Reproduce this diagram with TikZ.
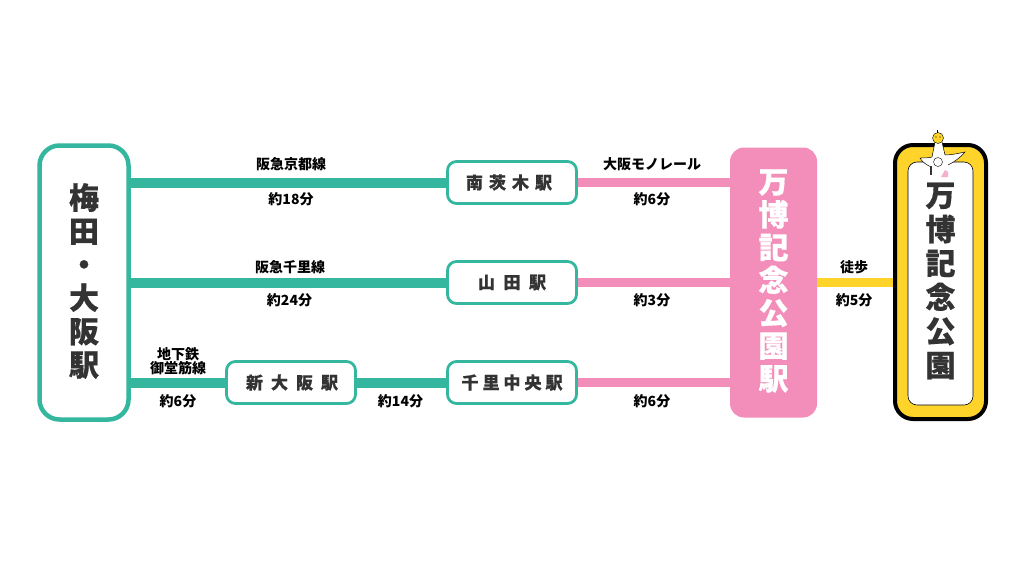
\documentclass[tikz,border=0pt]{standalone}
\usepackage{fontspec}
\usetikzlibrary{backgrounds}
\setmainfont{Noto Sans CJK JP}
\newfontfamily\cjkb[FakeBold=0.5]{Noto Sans CJK JP Black}
\newfontfamily\cjkc{Noto Sans CJK JP Black}
\definecolor{teal}{HTML}{34B79E}
\definecolor{pinkline}{HTML}{F38DB9}
\definecolor{yel}{HTML}{FFD42A}
\definecolor{ink}{HTML}{333333}
\tikzset{
  x=1pt,y=-1pt,
  bigbox/.style={draw=teal,line width=4.5pt,rounded corners=20pt,fill=white,minimum width=89pt,minimum height=274pt,inner sep=0pt},
  stationbox/.style={draw=teal,line width=2.8pt,rounded corners=9pt,fill=white,minimum width=129pt,minimum height=42pt,inner sep=0pt,text=ink,font=\cjkb\fontsize{17}{18}\selectfont},
  hubbox/.style={fill=pinkline,rounded corners=14pt,minimum width=87pt,minimum height=270pt,inner sep=0pt},
  vtext/.style={align=center,inner sep=0pt,font=\cjkb\fontsize{30}{33.4}\selectfont},
  tlabel/.style={inner sep=0pt,align=center,text=black,font=\cjkc\fontsize{14}{13.5}\selectfont},
  tealline/.style={draw=teal,line width=10pt},
  pinkl/.style={draw=pinkline,line width=9.5pt},
  yelline/.style={draw=yel,line width=9.5pt}
}
\begin{document}
\begin{tikzpicture}
\useasboundingbox (0,0) rectangle (1024,566);
% boxes
\node[bigbox] (umeda) at (84,282.5) {};
\node[stationbox] (minami) at (512,182.5) {南\hspace{6pt}茨\hspace{6pt}木\hspace{6pt}駅\hspace*{6pt}};
\node[stationbox] (yamada) at (512,282.5) {山\hspace{8.5pt}田\hspace{8.5pt}駅};
\node[stationbox] (senri) at (512,382.5) {千\hspace{4pt}里\hspace{4pt}中\hspace{4pt}央\hspace{4pt}駅};
\node[stationbox] (shin) at (291,382.5) {\hspace*{2pt}新\hspace{8pt}大\hspace{8pt}阪\hspace{8pt}駅};
\node[hubbox] (hub) at (773.5,282.5) {};
\node[draw=black,fill=yel,line width=4pt,rounded corners=18pt,minimum width=91pt,minimum height=274pt,inner sep=0pt] (park) at (940.5,282) {};
\node[draw=black,fill=white,line width=.6pt,rounded corners=9pt,minimum width=65pt,minimum height=243pt,inner sep=0pt] (parkin) at (940.5,283.5) {};
% connectors
\begin{pgfonlayer}{background}
\fill[white] (0,0) rectangle (1024,566);
\draw[tealline] (umeda.east |- minami) -- (minami.west);
\draw[tealline] (umeda.east |- yamada) -- (yamada.west);
\draw[tealline] (umeda.east |- shin) -- (shin.west);
\draw[tealline] (shin.east) -- (senri.west);
\draw[pinkl] (minami.east) -- (hub.west |- minami);
\draw[pinkl] (yamada.east) -- (hub.west |- yamada);
\draw[pinkl] (senri.east) -- (hub.west |- senri);
\draw[yelline] (hub.east |- yamada) -- (park.west |- yamada);
\end{pgfonlayer}
% vertical labels
\node[vtext,text=ink] (umedat) at (84,281) {梅\\田\\・\\大\\阪\\駅};
\node[vtext,text=white,font=\cjkb\fontsize{30}{32.8}\selectfont] (hubt) at (773.5,281) {万\\博\\記\\念\\公\\園\\駅};
\node[vtext,text=ink,font=\cjkb\fontsize{30}{34}\selectfont] (parkt) at (940.5,281) {万\\博\\記\\念\\公\\園};
% line labels
\node[tlabel] (l1) at (291,164) {阪急京都線};
\node[tlabel] (t1) at (291,199.5) {約18分};
\node[tlabel] (l2) at (290,267.5) {阪急千里線};
\node[tlabel] (t2) at (289.5,300.5) {約24分};
\node[tlabel] (l3) at (178,361) {地下鉄\\御堂筋線};
\node[tlabel] (t3) at (178,401) {約6分};
\node[tlabel] (t4) at (400.5,401) {約14分};
\node[tlabel] (l5) at (652,164) {大阪モノレール};
\node[tlabel] (t5) at (652,199.5) {約6分};
\node[tlabel] (t6) at (652,300.5) {約3分};
\node[tlabel] (t7) at (652,401) {約6分};
\node[tlabel] (l8) at (854,267.5) {徒歩};
\node[tlabel] (t8) at (854,300.5) {約5分};
% mascot
\fill[white] (935,142) -- (942,142) -- (945,155) .. controls (952,155) and (960,153) .. (965,152) .. controls (960,158) and (954,162) .. (948,165) -- (948,177) -- (932,177) -- (931,167) .. controls (927,165) and (922,162) .. (920,158) .. controls (924,158) and (928,158) .. (932,157) -- cycle;
\draw[black,line width=.5pt] (935,142) -- (932,157) .. controls (928,158) and (924,158) .. (920,158) .. controls (922,162) and (927,165) .. (931,167);
\draw[black,line width=.5pt] (942,142) -- (945,155) .. controls (952,155) and (960,153) .. (965,152) .. controls (960,158) and (954,162) .. (948,165);
\fill[pinkline!70] (941,177) -- (945,170) -- (948,172) -- (948,177) -- cycle;
\draw[black,line width=.4pt] (938,162) circle (4.5pt);
\draw[ink,line width=1.1pt] (931,166) -- (931,175);
\fill[yel,draw=black,line width=.4pt] (938,138) circle (5.5pt);
\draw[black,line width=.7pt] (937,132.5) -- (937,129.5);
\fill[black] (936,137) circle (.7pt) (940,137) circle (.7pt);
\end{tikzpicture}
\end{document}
